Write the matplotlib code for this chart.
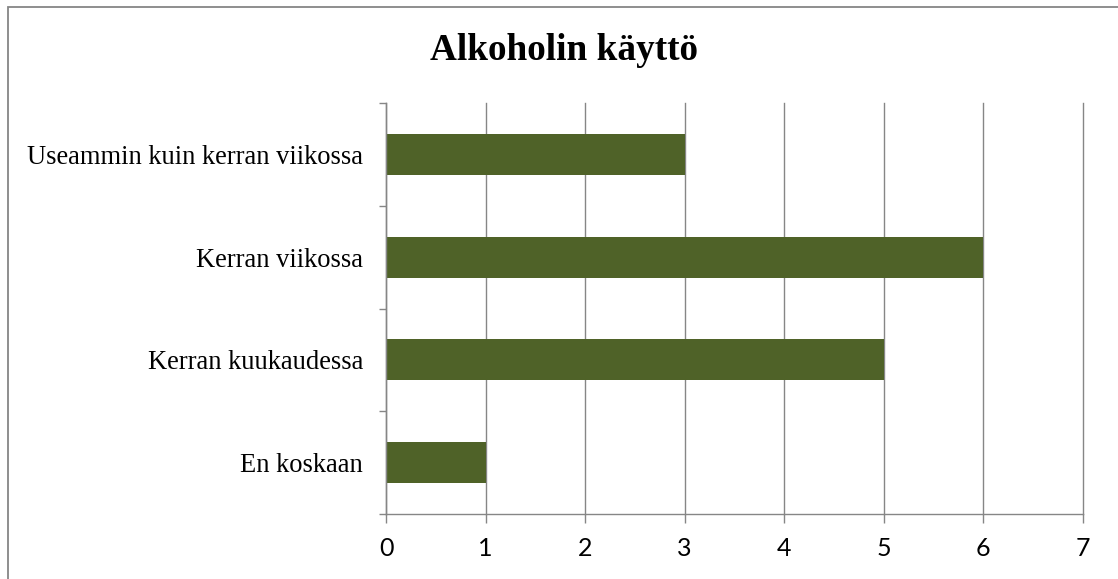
import matplotlib.pyplot as plt
from matplotlib.patches import Rectangle

# %% data
categories = ['En koskaan', 'Kerran kuukaudessa', 'Kerran viikossa', 'Useammin kuin kerran viikossa']
values = [1, 5, 6, 3]
xticks = [0, 1, 2, 3, 4, 5, 6, 7]

grey = '#868686'
bar_color = '#4F6228'

# %% plot
fig = plt.figure(figsize=(11.18, 5.79), dpi=100)
ax = fig.add_axes([386 / 1118, 1 - 514 / 579, (1083 - 386) / 1118, (514 - 103) / 579])

# outer chart frame (runs past right and bottom edges of the image)
fig.patches.append(Rectangle((8 / 1118, -0.1), 1.2, 1.1 - 7 / 579, transform=fig.transFigure,
                             fill=False, edgecolor=grey, linewidth=1.3))

ypos = list(range(len(categories)))
ax.barh(ypos, values, height=0.4, color=bar_color, zorder=3)

ax.set_xlim(0, 7)
ax.set_ylim(-0.5, len(categories) - 0.5)
ax.set_xticks(xticks)
ax.set_xticklabels([str(t) for t in xticks], fontfamily='Lato', fontsize=18)
ax.grid(axis='x', color=grey, linewidth=1.0, zorder=1)
for line in ax.get_xgridlines():
    line.set_clip_on(False)

# y ticks at category boundaries, labels in between
ax.set_yticks([i - 0.5 for i in range(len(categories) + 1)])
ax.set_yticklabels([])
ax.set_yticks(ypos, minor=True)
ax.set_yticklabels(categories, minor=True, fontfamily='Liberation Serif', fontsize=19.1)
ax.tick_params(axis='y', which='minor', length=0, pad=16.5)
ax.tick_params(axis='y', which='major', length=5, width=1, color=grey, direction='out')
ax.tick_params(axis='x', length=6.5, width=1, color=grey, direction='out', pad=10)

for s in ['top', 'right']:
    ax.spines[s].set_visible(False)
for s in ['left', 'bottom']:
    ax.spines[s].set_color(grey)
    ax.spines[s].set_linewidth(1.0)
    ax.spines[s].set_zorder(4)

fig.text(564 / 1118, 1 - 51 / 579, 'Alkoholin käyttö', ha='center', va='center',
         fontfamily='Liberation Serif', fontweight='bold', fontsize=26.8)

plt.savefig('out.png', dpi=100)
